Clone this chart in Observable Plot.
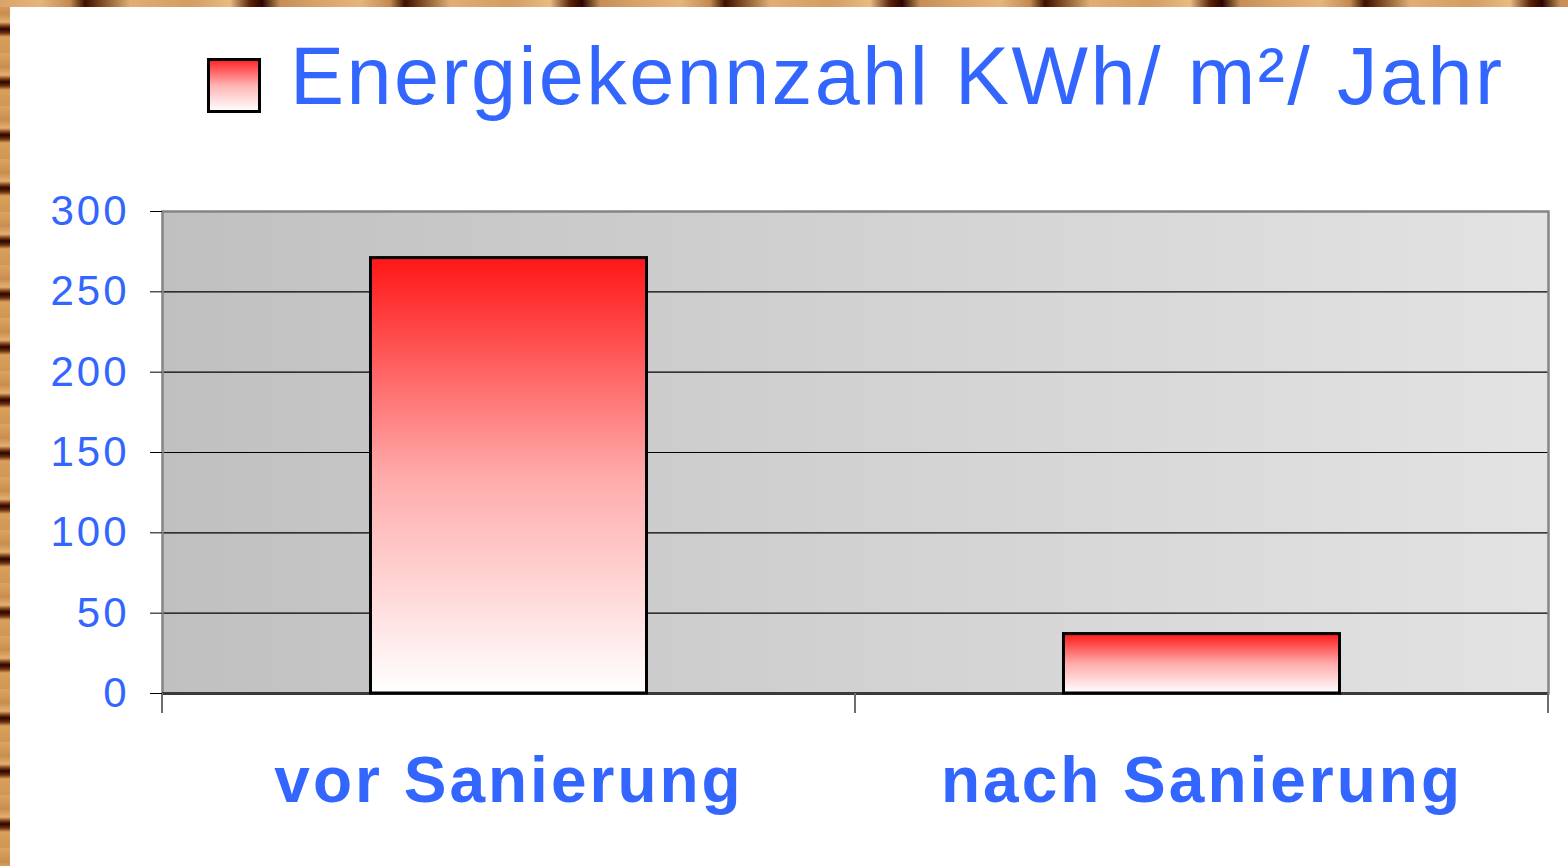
<!DOCTYPE html>
<html><head><meta charset="utf-8">
<script src="https://cdn.jsdelivr.net/npm/d3@7"></script>
<script src="https://cdn.jsdelivr.net/npm/@observablehq/plot@0.6"></script>
<style>
html,body{margin:0;padding:0;width:1568px;height:866px;overflow:hidden;background:#fff;}
#woodLeft{position:absolute;left:0;top:0;width:10px;height:866px;
 background:repeating-linear-gradient(to bottom,#dba463 0px,#c98e4f 14px,#e2b072 22px,#7a3a14 26px,#2a0600 29px,#6a3010 33px,#d9a05c 37px,#cf9654 53px);}
#woodTop{position:absolute;left:0;top:0;width:1568px;height:7px;
 background:repeating-linear-gradient(to right,#d9a36a 0px,#e6b57c 40px,#c48a4e 70px,#3a1000 85px,#7a4420 100px,#e0ae74 130px,#d49c60 190px,#e8bb84 230px,#5a2408 250px,#2a0600 262px,#c48e56 280px,#dca468 320px);}
#legend{position:absolute;left:0;top:0;}
#chart{position:absolute;left:0;top:150px;}
</style></head>
<body>
<div id="woodLeft"></div><div id="woodTop"></div>
<svg id="legend" width="1568" height="150">
  <defs>
    <linearGradient id="legGrad" x1="0" y1="0" x2="0" y2="1">
      <stop offset="0" stop-color="#ff2020"/><stop offset="0.5" stop-color="#ffb4b4"/><stop offset="1" stop-color="#ffffff"/>
    </linearGradient>
  </defs>
  <rect x="208.5" y="59.5" width="51" height="52" fill="url(#legGrad)" stroke="#000" stroke-width="3"/>
  <text id="title" x="290" y="104" fill="#3366ff" font-family="Liberation Sans, Arial, sans-serif" font-size="81" textLength="1212" lengthAdjust="spacing"></text>
</svg>
<div id="chart"></div>
<script>
const categories = ["vor Sanierung", "nach Sanierung"];
const values = [271, 37];
const yTicks = [0, 50, 100, 150, 200, 250, 300];
const gridValues = [50, 100, 150, 200, 250];
const legendLabel = "Energiekennzahl KWh/ m²/ Jahr";

document.getElementById("title").textContent = legendLabel;

const data = categories.map((c, i) => ({category: c, value: values[i]}));

const defs = () => {
  const d = d3.create("svg:defs");
  const bg = d.append("linearGradient").attr("id", "bgGrad").attr("x1", 0).attr("y1", 0).attr("x2", 1).attr("y2", 0);
  bg.append("stop").attr("offset", 0).attr("stop-color", "#c0c0c0");
  bg.append("stop").attr("offset", 1).attr("stop-color", "#e3e3e3");
  const bar = d.append("linearGradient").attr("id", "barGrad").attr("x1", 0).attr("y1", 0).attr("x2", 0).attr("y2", 1);
  bar.append("stop").attr("offset", 0).attr("stop-color", "#ff1616");
  bar.append("stop").attr("offset", 0.5).attr("stop-color", "#ffaaaa");
  bar.append("stop").attr("offset", 1).attr("stop-color", "#ffffff");
  return d.node();
};

const bandTicks = (index, scales, values, dims) => {
  const g = d3.create("svg:g");
  const xs = categories.map(c => scales.x(c));
  xs.push(dims.width - dims.marginRight);
  const y0 = scales.y(0);
  for (const x of xs) {
    g.append("line").attr("x1", x).attr("x2", x).attr("y1", y0).attr("y2", y0 + 20)
      .attr("stroke", "#6e6e6e").attr("stroke-width", 2);
  }
  return g.node();
};

const chart = Plot.plot({
  width: 1568,
  height: 716,
  marginTop: 61,
  marginBottom: 173,
  marginLeft: 162,
  marginRight: 20,
  style: {fontFamily: "Liberation Sans, Arial, sans-serif", background: "transparent"},
  x: {domain: categories, padding: 0, label: null},
  y: {domain: [0, 300], label: null},
  marks: [
    defs,
    Plot.frame({fill: "url(#bgGrad)", stroke: null}),
    Plot.ruleY(gridValues, {stroke: "#000", strokeWidth: 1.2}),
    Plot.frame({stroke: "#858585", strokeWidth: 2.5}),
    Plot.ruleY([0], {stroke: "#3a3a3a", strokeWidth: 3}),
    bandTicks,
    Plot.barY(data, {x: "category", y: "value", fill: "url(#barGrad)", stroke: "#000", strokeWidth: 3, insetLeft: 208.5, insetRight: 208.5}),
    Plot.axisY({ticks: yTicks, tickSize: 12, tickPadding: 21, stroke: "#000", fill: "#3366ff", fontSize: 42, tickFormat: d => String(d), label: null}),
    Plot.axisX({tickSize: 0, tickPadding: 63, fill: "#3366ff", fontSize: 64, fontWeight: "bold", lineAnchor: "top", label: null})
  ]
});
document.getElementById("chart").appendChild(chart);
d3.select(chart).selectAll('g[aria-label="x-axis tick label"] text').style("letter-spacing", "3px");
d3.select(chart).selectAll('g[aria-label="y-axis tick label"] text').style("letter-spacing", "3px");
</script>
</body></html>
